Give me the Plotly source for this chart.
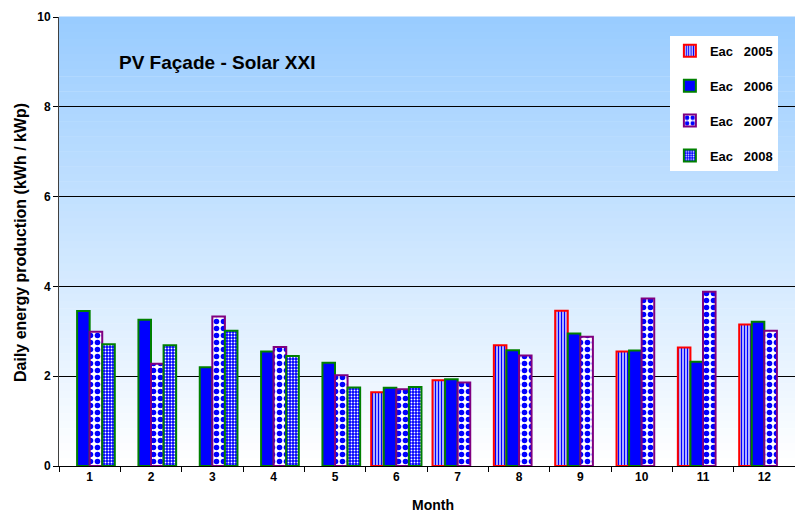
import plotly.graph_objects as go

months = ["1", "2", "3", "4", "5", "6", "7", "8", "9", "10", "11", "12"]
eac_2005 = [None, None, None, None, None, 1.64, 1.91, 2.69, 3.46, 2.55, 2.64, 3.15]
eac_2006 = [3.45, 3.26, 2.20, 2.55, 2.30, 1.74, 1.93, 2.58, 2.95, 2.57, 2.32, 3.21]
eac_2007 = [2.99, 2.28, 3.33, 2.65, 2.02, 1.71, 1.86, 2.46, 2.88, 3.73, 3.88, 3.01]
eac_2008 = [2.71, 2.69, 3.01, 2.45, 1.75, 1.76, None, None, None, None, None, None]

FONT = "Liberation Sans, Arial, sans-serif"
NB = "\u00a0"

fig = go.Figure()
fig.add_trace(go.Bar(
    x=months, y=eac_2005, name=f"Eac{NB*3}2005", legendgroup="a",
    marker=dict(color="white", line=dict(color="#ff0000", width=2),
                pattern=dict(shape="|", fgcolor="#0000ff", bgcolor="#e8e8ff", size=3,
                             solidity=0.5, fgopacity=1)),
))
fig.add_trace(go.Bar(
    x=months, y=eac_2006, name=f"Eac{NB*3}2006", legendgroup="b",
    marker=dict(color="#0000ff", line=dict(color="#008000", width=2)),
))
fig.add_trace(go.Bar(
    x=months, y=eac_2007, name=f"Eac{NB*3}2007", legendgroup="c",
    marker=dict(color="white", line=dict(color="#800080", width=2),
                pattern=dict(shape=".", fgcolor="#0000ff", bgcolor="white", size=7,
                             solidity=0.5, fgopacity=1)),
))
fig.add_trace(go.Bar(
    x=months, y=eac_2008, name=f"Eac{NB*3}2008", legendgroup="d",
    marker=dict(color="#0000ff", line=dict(color="#008000", width=2),
                pattern=dict(shape=".", fgcolor="white", bgcolor="#0000ff", size=3,
                             solidity=0.3, fgopacity=1)),
))

# vertical gradient background (light blue top -> white bottom)
shapes = []
n = 60
top = (153, 204, 255)
bot = (255, 255, 255)
for i in range(n):
    t = i / (n - 1)
    c = tuple(round(top[k] + (bot[k] - top[k]) * t) for k in range(3))
    shapes.append(dict(type="rect", xref="x domain", yref="y domain",
                       x0=0, x1=1, y0=1 - (i + 1) / n, y1=1 - i / n + 0.001,
                       fillcolor=f"rgb{c}", line=dict(width=0), layer="below"))

fig.update_layout(
    width=795, height=513,
    margin=dict(l=59, r=0, t=17, b=47, autoexpand=False),
    paper_bgcolor="white", plot_bgcolor="rgba(0,0,0,0)",
    barmode="group", bargap=0.18, bargroupgap=0,
    shapes=shapes,
    font=dict(family=FONT, size=12, color="black"),
    legend=dict(x=0.830, y=0.958, xanchor="left", yanchor="top",
                bgcolor="white", borderwidth=0, tracegroupgap=15,
                font=dict(family=FONT, size=13, color="black", weight="bold"),
                itemwidth=30),
    annotations=[
        dict(text="<b>PV Façade - Solar XXI</b>", xref="paper", yref="paper",
             x=(117 - 59) / 736, y=(466 - 62) / 449, xanchor="left", yanchor="middle", showarrow=False,
             font=dict(family=FONT, size=19, color="black")),
        dict(text="<b>Month</b>", xref="paper", yref="paper",
             x=(433 - 59) / 736, y=(466 - 505) / 449, xanchor="center", yanchor="middle", showarrow=False,
             font=dict(family=FONT, size=14, color="black")),
        dict(text="<b>Daily energy production (kWh / kWp)</b>", xref="paper", yref="paper",
             x=(21 - 59) / 736, y=(466 - 243) / 449, xanchor="center", yanchor="middle", showarrow=False,
             textangle=-90, font=dict(family=FONT, size=16, color="black")),
    ],
    xaxis=dict(automargin=False,
               tickfont=dict(size=12, weight="bold"), ticks="outside", tickson="boundaries",
               ticklen=5, tickcolor="black", showline=True, linecolor="black", linewidth=1,
               showgrid=False),
    yaxis=dict(automargin=False,
               range=[0, 10], dtick=2, tickfont=dict(size=12, weight="bold"),
               ticks="outside", ticklen=5, tickcolor="black",
               showline=True, linecolor="#404040", linewidth=1,
               showgrid=True, gridcolor="black", gridwidth=1, zeroline=False),
)

fig.write_html("out.html", config={"displayModeBar": False},
               post_script="document.body.style.margin='0';document.body.style.overflow='hidden';")
